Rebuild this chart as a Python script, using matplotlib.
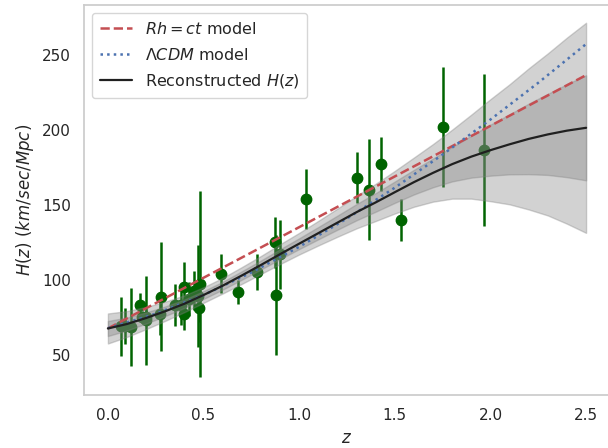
import numpy as np
import matplotlib
matplotlib.use("Agg")
import matplotlib.pyplot as plt
import seaborn as sns

# Observational H(z) data (cosmic chronometers)
z_obs = [0.07, 0.09, 0.12, 0.17, 0.179, 0.199, 0.2, 0.27, 0.28, 0.352, 0.3802,
         0.4, 0.4004, 0.4247, 0.4497, 0.47, 0.4783, 0.48, 0.593, 0.68, 0.781,
         0.875, 0.88, 0.9, 1.037, 1.3, 1.363, 1.43, 1.53, 1.75, 1.965]
H_obs = [69, 69, 68.6, 83, 75, 75, 72.9, 77, 88.8, 83, 83,
         95, 77, 87.1, 92.8, 89, 80.9, 97, 104, 92, 105,
         125, 90, 117, 154, 168, 160, 177, 140, 202, 186.5]
H_err = [19.6, 12, 26.2, 8, 4, 5, 29.6, 14, 36.6, 14, 13.5,
         17, 10.2, 11.2, 12.9, 34, 9, 62, 13, 8, 12,
         17, 40, 23, 20, 17, 33.6, 18, 14, 40, 50.4]

# Reconstructed H(z) (GP mean and 1-sigma)
z_rec = [0.0, 0.1, 0.2, 0.3, 0.4, 0.5, 0.6, 0.7, 0.8, 0.9, 1.0, 1.1, 1.2,
         1.3, 1.4, 1.5, 1.6, 1.7, 1.8, 1.9, 2.0, 2.1, 2.2, 2.3, 2.4, 2.5]
H_rec = [67.5, 70.5, 74.5, 79.0, 84.0, 89.8, 96.0, 102.8, 109.8, 117.0, 124.0,
         131.0, 138.0, 145.0, 151.5, 158.3, 165.0, 171.2, 177.0, 182.0, 186.3,
         190.2, 193.8, 196.8, 199.3, 201.2]
sig_rec = [5.0, 4.3, 3.7, 3.2, 2.8, 2.6, 2.6, 2.8, 3.0, 3.3, 3.6, 4.1, 4.7,
           5.4, 6.2, 7.1, 8.2, 9.6, 11.5, 14.0, 17.0, 20.0, 23.5, 27.0, 31.0, 35.0]

# Model curves
z_mod = [0.0, 0.25, 0.5, 0.75, 1.0, 1.25, 1.5, 1.75, 2.0, 2.25, 2.5]
H_rhct = [67.5, 84.4, 101.3, 118.1, 135.0, 151.9, 168.8, 185.6, 202.5, 219.4, 236.3]
H_lcdm = [67.7, 77.3, 89.8, 104.8, 121.9, 140.8, 161.3, 183.4, 206.7, 231.2, 257.0]

sns.set_theme(style="whitegrid")
plt.rcParams['font.family'] = ['DejaVu Sans']

fig = plt.figure(figsize=(6.08, 4.48), dpi=100)
ax = fig.add_axes([84/608, 53/448, (610-84)/608, (395-5)/448])
ax.grid(False)

zr = np.array(z_rec)
Hr = np.array(H_rec)
sr = np.array(sig_rec)

ax.errorbar(z_obs, H_obs, yerr=H_err, fmt='o', color='darkgreen', ms=7.5,
            elinewidth=1.8, capsize=0, zorder=1)
ax.fill_between(zr, Hr - 2*sr, Hr + 2*sr, color='gray', alpha=0.35, zorder=2, lw=1)
ax.fill_between(zr, Hr - sr, Hr + sr, color='gray', alpha=0.35, zorder=2, lw=1)

ax.plot(z_mod, H_rhct, '--', color='#c44e52', lw=1.8, label=r'$Rh=ct$ model', zorder=3)
ax.plot(z_mod, H_lcdm, ':', color='#4c72b0', lw=1.8, label=r'$\Lambda CDM$ model', zorder=3)
ax.plot(zr, Hr, '-', color='#202020', lw=1.6, label=r'Reconstructed $H(z)$', zorder=4)

ax.set_xlabel(r'$z$')
ax.set_ylabel(r'$H(z)$ $(km/sec/Mpc)$')
ax.set_xticks([0.0, 0.5, 1.0, 1.5, 2.0, 2.5])
ax.set_yticks([50, 100, 150, 200, 250])
ax.legend(loc='upper left', fontsize=11.5, labelspacing=0.6, handletextpad=0.8,
          borderpad=0.5)

fig.savefig('out.png', dpi=100)
